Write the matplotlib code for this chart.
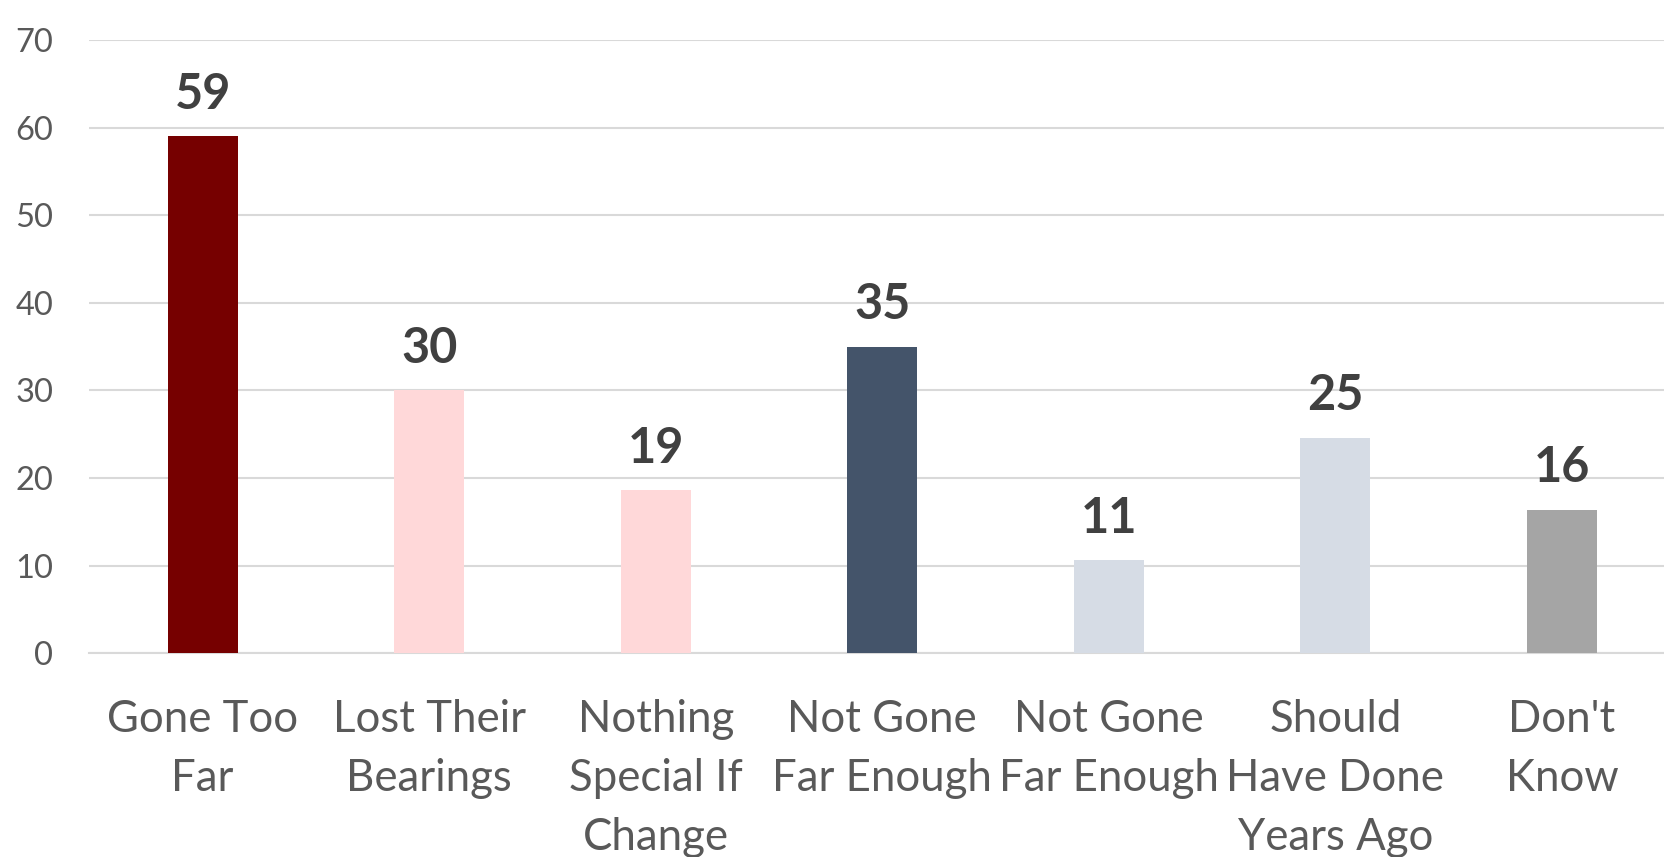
import matplotlib
matplotlib.use("Agg")
import matplotlib.pyplot as plt

categories = ["Gone Too\nFar", "Lost Their\nBearings", "Nothing\nSpecial If\nChange",
              "Not Gone\nFar Enough", "Not Gone\nFar Enough", "Should\nHave Done\nYears Ago",
              "Don't\nKnow"]
values = [59, 30, 18.6, 35, 10.6, 24.6, 16.4]
colors = ["#760000", "#FFD8D9", "#FFD8D9", "#44546A", "#D6DCE5", "#D6DCE5", "#A5A5A5"]
yticks = [0, 10, 20, 30, 40, 50, 60, 70]

plt.rcParams['font.family'] = ['Lato', 'DejaVu Sans']

fig = plt.figure(figsize=(16.64, 8.57), dpi=100)
ax = fig.add_axes([0.0537, 0.2377, 0.953, 0.7156])

x = list(range(len(categories)))
ax.bar(x, values, width=0.31, color=colors, zorder=3)
ax.set_xlim(-0.5, len(categories) - 0.5)
ax.set_ylim(0, 70)
ax.set_yticks(yticks)
ax.yaxis.grid(True, color="#D9D9D9", linewidth=1.5, zorder=0)
for s in ["top", "right", "left"]:
    ax.spines[s].set_visible(False)
ax.spines["bottom"].set_color("#D9D9D9")
ax.spines["bottom"].set_linewidth(1.5)
ax.tick_params(axis="both", length=0)
ax.tick_params(axis="y", labelsize=23.5, labelcolor="#595959", pad=26)
ax.set_xticks(x)
ax.set_xticklabels(categories, fontsize=31.5, color="#595959", linespacing=1.55)
ax.tick_params(axis="x", pad=33)

for xi, v in zip(x, values):
    ax.annotate(f"{v:.0f}", (xi, v), xytext=(0, 14), textcoords="offset points",
                ha="center", va="bottom", fontsize=35, fontweight="bold", color="#404040")

fig.savefig("out.png", dpi=100)
